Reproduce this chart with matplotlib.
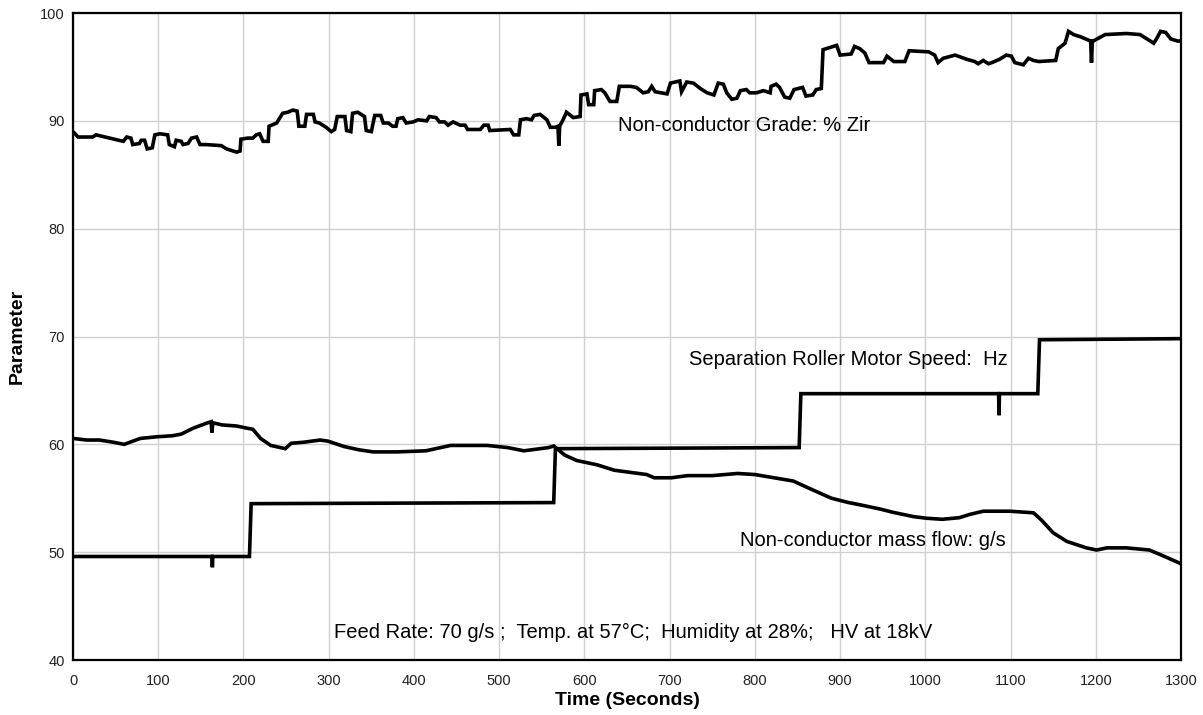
import numpy as np
import matplotlib.pyplot as plt

plt.rcParams['font.family'] = ['Liberation Sans', 'DejaVu Sans']

# (time s, value)
grade_pts = [
    (0, 89.0), (6, 88.5), (23, 88.5), (27, 88.7), (43, 88.4), (59, 88.1), (63, 88.5), (68, 88.4),
    (70, 87.8), (78, 87.9), (80, 88.2), (84, 88.2), (87, 87.4), (93, 87.5), (96, 88.7), (102, 88.8),
    (111, 88.7), (113, 87.8), (119, 87.6), (121, 88.2), (127, 88.1), (129, 87.8), (135, 87.9),
    (139, 88.4), (145, 88.5), (149, 87.8), (156, 87.8), (174, 87.7), (180, 87.4), (192, 87.1),
    (196, 87.2), (197, 88.3), (205, 88.4), (211, 88.4), (215, 88.7), (219, 88.8), (223, 88.1),
    (229, 88.1), (230, 89.5), (239, 89.8), (242, 90.2), (246, 90.7), (252, 90.8), (258, 91.0),
    (263, 90.9), (265, 89.5), (272, 89.5), (274, 90.6), (282, 90.6), (284, 89.9), (289, 89.8),
    (297, 89.4), (303, 89.0), (307, 89.2), (310, 90.4), (319, 90.4), (321, 89.1), (326, 89.0),
    (328, 90.7), (334, 90.8), (338, 90.6), (342, 90.4), (344, 89.1), (350, 89.0), (354, 90.5),
    (361, 90.5), (364, 89.8), (370, 89.8), (375, 89.5), (379, 89.5), (381, 90.2), (387, 90.3),
    (391, 89.8), (399, 89.9), (405, 90.1), (415, 90.0), (418, 90.4), (426, 90.3), (430, 89.9),
    (436, 89.9), (440, 89.6), (446, 89.9), (454, 89.6), (460, 89.6), (463, 89.2), (478, 89.2),
    (482, 89.6), (487, 89.6), (489, 89.1), (513, 89.2), (517, 88.7), (523, 88.7), (525, 90.1),
    (532, 90.2), (538, 90.1), (541, 90.5), (548, 90.6), (556, 90.1), (560, 89.4), (566, 89.4),
    (569, 89.5), (570, 87.7), (571, 89.5), (575, 90.1), (579, 90.8), (587, 90.3), (595, 90.4),
    (596, 92.4), (603, 92.5), (605, 91.5), (611, 91.5), (612, 92.8), (620, 92.9), (624, 92.6),
    (630, 91.8), (638, 91.8), (641, 93.2), (654, 93.2), (661, 93.1), (669, 92.6), (675, 92.7),
    (679, 93.2), (683, 92.7), (697, 92.5), (701, 93.5), (712, 93.7), (714, 92.7), (720, 93.6),
    (728, 93.5), (736, 93.0), (744, 92.6), (752, 92.4), (757, 93.5), (763, 93.4), (767, 92.6),
    (773, 92.0), (779, 92.1), (783, 92.8), (790, 92.9), (794, 92.6), (802, 92.6), (810, 92.8),
    (818, 92.6), (819, 93.2), (825, 93.4), (829, 93.1), (835, 92.2), (841, 92.1), (846, 92.9),
    (856, 93.1), (860, 92.3), (868, 92.4), (872, 92.9), (878, 93.0), (880, 96.6), (888, 96.8),
    (896, 97.0), (900, 96.1), (913, 96.2), (917, 96.9), (923, 96.7), (929, 96.3), (934, 95.4),
    (951, 95.4), (955, 96.0), (963, 95.5), (976, 95.5), (981, 96.5), (1004, 96.4), (1011, 96.1),
    (1015, 95.4), (1021, 95.8), (1035, 96.1), (1049, 95.7), (1058, 95.5), (1062, 95.3),
    (1068, 95.6), (1074, 95.3), (1078, 95.4), (1087, 95.7), (1095, 96.1), (1101, 96.0),
    (1105, 95.4), (1115, 95.2), (1121, 95.8), (1127, 95.6), (1133, 95.5), (1153, 95.6),
    (1156, 96.7), (1164, 97.2), (1168, 98.3), (1174, 98.0), (1182, 97.8), (1194, 97.4),
    (1195, 95.4), (1196, 97.4), (1197, 97.4), (1211, 98.0), (1236, 98.1), (1252, 98.0),
    (1268, 97.2), (1272, 97.7), (1276, 98.3), (1282, 98.2), (1288, 97.6), (1296, 97.4), (1300, 97.4),
]

massflow_pts = [
    (0, 60.55), (16, 60.4), (31, 60.4), (47, 60.2), (60, 60.0), (79, 60.55), (98, 60.7),
    (117, 60.8), (127, 60.95), (141, 61.5), (158, 62.0), (162, 62.1), (163, 61.1), (164, 62.0),
    (175, 61.8), (192, 61.7), (204, 61.5), (211, 61.4), (220, 60.55), (232, 59.9), (249, 59.6),
    (256, 60.1), (271, 60.2), (290, 60.4), (299, 60.3), (318, 59.8), (335, 59.5), (352, 59.3),
    (380, 59.3), (414, 59.4), (443, 59.9), (486, 59.9), (510, 59.7), (529, 59.4), (558, 59.7),
    (564, 59.85), (577, 59.0), (591, 58.5), (615, 58.1), (635, 57.6), (654, 57.4), (673, 57.2),
    (682, 56.9), (702, 56.9), (721, 57.1), (750, 57.1), (780, 57.3), (800, 57.2), (830, 56.8),
    (845, 56.6), (870, 55.7), (890, 55.0), (910, 54.6), (923, 54.4), (947, 54.0), (962, 53.7),
    (986, 53.3), (1001, 53.15), (1020, 53.05), (1040, 53.2), (1052, 53.5), (1068, 53.8),
    (1099, 53.8), (1127, 53.65), (1136, 53.0), (1150, 51.8), (1166, 51.0), (1189, 50.4),
    (1201, 50.2), (1213, 50.4), (1236, 50.4), (1263, 50.2), (1275, 49.8), (1298, 49.0), (1300, 48.9),
]

motor_pts = [
    (0, 49.6), (163, 49.6), (163.5, 48.6), (164, 49.6), (207, 49.6), (209, 54.5), (564, 54.6),
    (566, 59.6), (852, 59.7), (854, 64.7), (1086, 64.7), (1086.5, 62.7), (1087, 64.7),
    (1132, 64.7), (1134, 69.7), (1300, 69.8),
]

labels = ['Non-conductor Grade: % Zir', 'Separation Roller Motor Speed:  Hz',
          'Non-conductor mass flow: g/s']
label_pos = [(640, 89.55), (723, 67.85), (783, 51.1)]
note = 'Feed Rate: 70 g/s ;  Temp. at 57\u00b0C;  Humidity at 28%;   HV at 18kV'

fig = plt.figure(figsize=(12.03, 7.15), dpi=100)
ax = fig.add_axes([0.0607, 0.0769, 0.9210, 0.9049])

for pts in (grade_pts, massflow_pts, motor_pts):
    t, v = np.array(pts).T
    ax.plot(t, v, color='black', lw=2.6, solid_joinstyle='miter')

for txt, (x, y) in zip(labels, label_pos):
    ax.text(x, y, txt, fontsize=14.5, va='center', ha='left')
ax.text(306, 42.6, note, fontsize=14.5, va='center', ha='left')

ax.set_xlim(0, 1300)
ax.set_ylim(40, 100)
ax.set_xticks(np.arange(0, 1301, 100))
ax.set_yticks(np.arange(40, 101, 10))
ax.grid(True, color='#d0d0d0', lw=1)
ax.set_axisbelow(True)
ax.tick_params(length=0, labelsize=10.5, labelcolor='#222222')
ax.tick_params(axis='x', pad=10)
ax.tick_params(axis='y', pad=6)
for s in ax.spines.values():
    s.set_linewidth(1.6)
    s.set_color('black')

ax.set_xlabel('Time (Seconds)', fontsize=14, fontweight='bold')
ax.set_ylabel('Parameter', fontsize=14, fontweight='bold')
ax.xaxis.set_label_coords(0.5, -0.050)
ax.yaxis.set_label_coords(-0.043, 0.5)

fig.savefig('out.png', dpi=100)
